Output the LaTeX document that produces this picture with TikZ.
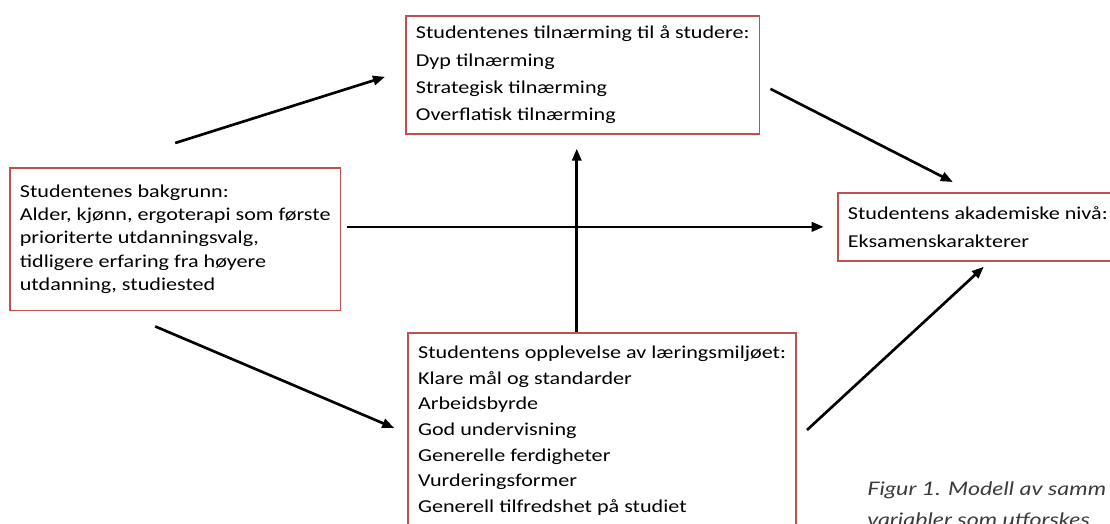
\documentclass[tikz,border=0pt]{standalone}
\usepackage{fontspec}
\setmainfont{Carlito}[FakeStretch=1.22]
\newfontfamily\capfont{Lato}[FakeStretch=1.25]
\usetikzlibrary{arrows.meta,positioning}
\definecolor{boxred}{HTML}{C0504D}
\definecolor{captext}{HTML}{3C3C3C}

\begin{document}
\begin{tikzpicture}[
  x=0.75pt, y=-0.75pt,
  box/.style={draw=boxred,line width=1.3pt,anchor=north west,align=left,inner xsep=7.5pt,
    font=\fontsize{13.6}{17.5}\selectfont},
  arr/.style={-{Triangle[length=9pt,width=7pt]},line width=2pt}
]
\useasboundingbox (0,0) rectangle (1110,524);
\clip (0,0) rectangle (1110,524);

\node[box,minimum height=107pt] (bg) at (9,167)
  {Studentenes bakgrunn:\\
   Alder, kjønn, ergoterapi som første\\
   prioriterte utdanningsvalg,\\
   tidligere erfaring fra høyere\\
   utdanning, studiested};
\node[box,minimum height=88.5pt,
  font=\fontsize{13.6}{20.5}\selectfont] (app) at (405,15)
  {Studentenes tilnærming til å studere:\\
   Dyp tilnærming\\
   Strategisk tilnærming\\
   Overflatisk tilnærming};
\node[box,minimum height=51pt,
  font=\fontsize{13.6}{21}\selectfont] (acad) at (837,192)
  {Studentens akademiske nivå:\\
   Eksamenskarakterer};
\node[box,anchor=north east,inner ysep=10pt,
  font=\fontsize{13.6}{19.2}\selectfont] (env) at (797,332)
  {Studentens opplevelse av læringsmiljøet:\\
   Klare mål og standarder\\
   Arbeidsbyrde\\
   God undervisning\\
   Generelle ferdigheter\\
   Vurderingsformer\\
   Generell tilfredshet på studiet};

\node[anchor=base west,align=left,text=captext,inner sep=0pt,
  font=\capfont\itshape\fontsize{14}{23}\selectfont] (cap) at (867,526)
  {Figur 1. Modell av samm\\variabler som utforskes};

% piler mellom boksene
\draw[arr] ([shift={(0,-24)}]bg.north) -- ([shift={(-20,2)}]app.west);
\draw[arr] ([shift={(10,14)}]app.east) -- ([shift={(-25,-10)}]acad.north);
\draw[arr,shorten <=4.5pt,shorten >=10pt] (bg.east |- acad.west) -- (acad.west);
\draw[arr,shorten >=10.5pt] ([xshift=-4.5pt]app.south |- env.north) -- ([xshift=-4.5pt]app.south);
\draw[arr] ([shift={(-20,15)}]bg.south) -- ([shift={(-13,96)}]env.north west);
\draw[arr] ([shift={(10,98)}]env.north east) -- ([shift={(6,5)}]acad.south);
\end{tikzpicture}
\end{document}
